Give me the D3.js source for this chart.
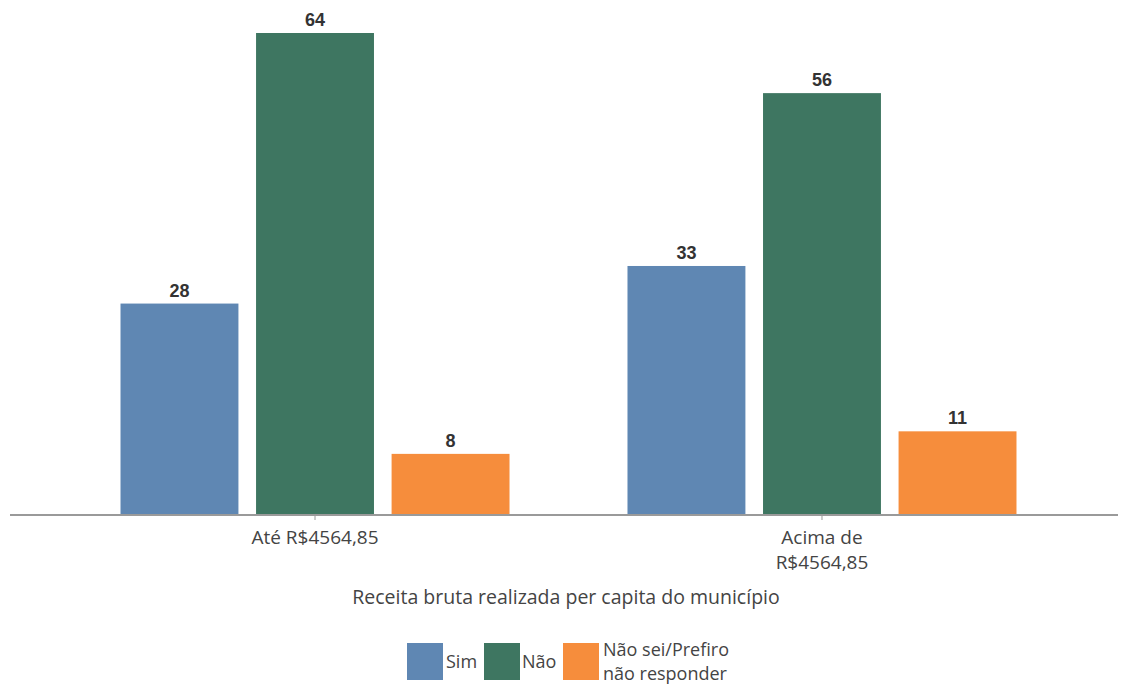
<!DOCTYPE html>
<html><head><meta charset="utf-8">
<script src="https://cdn.jsdelivr.net/npm/d3@7"></script>
<style>body{margin:0;background:#fff}</style>
</head><body>
<svg id="c" width="1122" height="684"></svg>
<script>
const categories = [["Até R$4564,85"], ["Acima de", "R$4564,85"]];
const categoryKeys = ["Até R$4564,85", "Acima de R$4564,85"];
const seriesNames = ["Sim", "Não", "Não sei/Prefiro não responder"];
const legendLines = [["Sim"], ["Não"], ["Não sei/Prefiro", "não responder"]];
const simValues = [28, 33];
const naoValues = [64, 56];
const naoSeiValues = [8, 11];
const colors = ["#5f87b3", "#3e7661", "#f68d3c"];
const xTitle = "Receita bruta realizada per capita do município";

const seriesValues = [simValues, naoValues, naoSeiValues];
const svg = d3.select("#c");
const baseY = 514, topY = 33;
const y = d3.scaleLinear().domain([0, 64]).range([baseY, topY]);
const x0 = d3.scaleBand().domain(categoryKeys).range([61.5, 1075.5]).paddingInner(0.2327).paddingOuter(0.1164);
const x1 = d3.scaleBand().domain(seriesNames).range([0, x0.bandwidth()]).paddingInner(0.13);
const font = "Open Sans, sans-serif";

const g = svg.append("g");
categoryKeys.forEach((cat, ci) => {
  const gg = g.append("g").attr("transform", `translate(${x0(cat)},0)`);
  seriesNames.forEach((s, si) => {
    const v = seriesValues[si][ci];
    gg.append("rect").attr("x", x1(s)).attr("y", y(v)).attr("width", x1.bandwidth())
      .attr("height", baseY - y(v)).attr("fill", colors[si]);
    gg.append("text").attr("x", x1(s) + x1.bandwidth() / 2).attr("y", y(v) - 7)
      .attr("text-anchor", "middle").attr("font-family", "Liberation Sans, Arial, sans-serif")
      .attr("font-weight", "bold").attr("font-size", 18).attr("fill", "#333").text(v);
  });
});

// axis line
svg.append("line").attr("x1", 10).attr("x2", 1118).attr("y1", baseY + 1).attr("y2", baseY + 1)
  .attr("stroke", "#9a9a9a").attr("stroke-width", 2);
categoryKeys.forEach((cat, ci) => {
  const cx = x0(cat) + x0.bandwidth() / 2;
  svg.append("line").attr("x1", cx).attr("x2", cx).attr("y1", baseY + 1).attr("y2", baseY + 6)
    .attr("stroke", "#9a9a9a").attr("stroke-width", 1);
  const t = svg.append("text").attr("text-anchor", "middle").attr("font-family", font)
    .attr("font-size", 19).attr("fill", "#444");
  categories[ci].forEach((line, li) => {
    t.append("tspan").attr("x", cx).attr("y", 544 + li * 25).text(line);
  });
});

svg.append("text").attr("x", 566).attr("y", 604).attr("text-anchor", "middle")
  .attr("font-family", font).attr("font-size", 19.5).attr("fill", "#444").text(xTitle);

// legend
const legX = [407, 484, 563];
const legTextX = [446, 522, 603];
seriesNames.forEach((s, i) => {
  svg.append("rect").attr("x", legX[i]).attr("y", 643).attr("width", 36).attr("height", 37).attr("fill", colors[i]);
  const lines = legendLines[i];
  if (lines.length === 1) {
    svg.append("text").attr("font-family", font).attr("font-size", 18).attr("fill", "#444")
      .attr("x", legTextX[i]).attr("y", 668).text(lines[0]);
  } else {
    lines.forEach((l, li) => svg.append("text").attr("font-family", font).attr("font-size", 18)
      .attr("fill", "#444").attr("x", legTextX[i]).attr("y", 656 + li * 24).text(l));
  }
});
</script>
</body></html>
